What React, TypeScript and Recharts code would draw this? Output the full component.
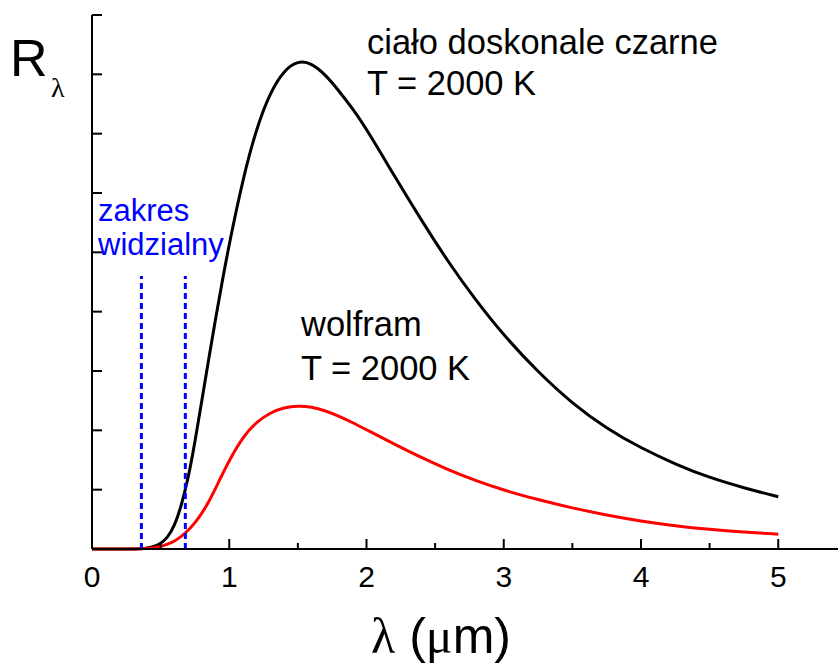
import { Line, LineChart, ReferenceLine, XAxis, YAxis } from "recharts";

// wavelength in micrometres
const lambda = [
  0, 0.1, 0.2, 0.3, 0.4, 0.45, 0.5, 0.55, 0.6, 0.65, 0.7, 0.75, 0.8, 0.85, 0.9, 0.95, 1.0, 1.1, 1.2, 1.3,
  1.4, 1.5, 1.6, 1.7, 1.8, 1.9, 2.0, 2.2, 2.4, 2.6, 2.8, 3.0, 3.25, 3.5, 3.75, 4.0, 4.25, 4.5, 4.75, 5.0,
];
// ciało doskonale czarne, T = 2000 K (arbitrary units)
const blackBody = [
  0, 0, 0, 0, 0.01, 0.04, 0.09, 0.19, 0.38, 0.72, 1.18, 1.8, 2.5, 3.2, 3.875, 4.525, 5.145, 6.245, 7.105,
  7.705, 8.07, 8.23, 8.19, 7.995, 7.72, 7.42, 7.08, 6.3, 5.54, 4.82, 4.18, 3.6, 2.98, 2.45, 2.03, 1.7,
  1.43, 1.2, 1.03, 0.88,
];
// wolfram, T = 2000 K
const tungsten = [
  0, 0, 0, 0, 0.01, 0.02, 0.04, 0.08, 0.13, 0.21, 0.31, 0.44, 0.6, 0.79, 1.02, 1.26, 1.495, 1.895, 2.145,
  2.3, 2.385, 2.415, 2.395, 2.33, 2.24, 2.13, 2.01, 1.77, 1.54, 1.33, 1.15, 0.99, 0.83, 0.69, 0.57, 0.47,
  0.39, 0.33, 0.285, 0.25,
];
const xTicks = [0, 0.5, 1, 1.5, 2, 2.5, 3, 3.5, 4, 4.5, 5];
const yTicks = [0, 1, 2, 3, 4, 5, 6, 7, 8, 9];
const visibleRange = [0.36, 0.68];
const visibleTop = 4.6;

const data = lambda.map((x, i) => ({ x, black: blackBody[i], w: tungsten[i] }));

const FONT = "'Liberation Sans', Arial, sans-serif";
const SERIF = "'Liberation Serif', 'DejaVu Serif', serif";

const M = { top: 15, left: 62, right: 10, bottom: 84 };
const AXIS_W = 30;
const AXIS_H = 30;
const H = 663;
const PLOT_LEFT = M.left + AXIS_W;
const PLOT_BOTTOM = H - M.bottom - AXIS_H;

function XTick(props: any) {
  const { x, payload } = props;
  const y = PLOT_BOTTOM;
  const major = Number.isInteger(payload.value);
  return (
    <g>
      <line x1={x} x2={x} y1={y} y2={y - (major ? 10 : 6)} stroke="#000" strokeWidth={2} />
      {major && (
        <text x={x} y={y + 38} textAnchor="middle" fontSize={30} fontFamily={FONT} fill="#000">
          {payload.value}
        </text>
      )}
    </g>
  );
}

function YTick(props: any) {
  const { y } = props;
  const x = PLOT_LEFT;
  return <line x1={x} x2={x + 10} y1={y} y2={y} stroke="#000" strokeWidth={2} />;
}

export default function App() {
  return (
    <div style={{ position: "fixed", left: 0, top: 0, width: 838, height: H, overflow: "hidden", background: "#fff" }}>
      <LineChart width={850} height={H} data={data} margin={M}>
        <XAxis
          dataKey="x"
          type="number"
          domain={[0, 5.45]}
          ticks={xTicks}
          height={AXIS_H}
          tickSize={0}
          tickMargin={0}
          tickLine={false}
          tick={<XTick />}
          axisLine={{ stroke: "#000", strokeWidth: 2 }}
        />
        <YAxis
          type="number"
          domain={[0, 9]}
          ticks={yTicks}
          width={AXIS_W}
          tickSize={0}
          tickMargin={0}
          tickLine={false}
          tick={<YTick />}
          axisLine={{ stroke: "#000", strokeWidth: 2 }}
        />
        <Line dataKey="black" type="basis" stroke="#000" strokeWidth={3} dot={false} isAnimationActive={false} />
        <Line dataKey="w" type="basis" stroke="#ff0000" strokeWidth={3} dot={false} isAnimationActive={false} />
        {visibleRange.map((v) => (
          <ReferenceLine
            key={v}
            segment={[
              { x: v, y: 0 },
              { x: v, y: visibleTop },
            ]}
            stroke="#0000ff"
            strokeWidth={3}
            strokeDasharray="6 4"
            ifOverflow="visible"
          />
        ))}
      </LineChart>
      <svg width={838} height={H} style={{ position: "absolute", left: 0, top: 0, pointerEvents: "none" }}>
        <text x={10} y={76} fontSize={52} fontFamily={FONT} fill="#000">
          R
        </text>
        <text x={51} y={97} fontSize={28} fontFamily={SERIF} fill="#000">
          λ
        </text>
        <g fontFamily={FONT} fontSize={34.5} fill="#000">
          <text x={367} y={54}>ciało doskonale czarne</text>
          <text x={367} y={95}>T = 2000 K</text>
          <text x={301} y={336}>wolfram</text>
          <text x={301} y={380}>T = 2000 K</text>
        </g>
        <g fontFamily={FONT} fontSize={31} fill="#0000ff">
          <text x={98} y={221}>zakres</text>
          <text x={98} y={255}>widzialny</text>
        </g>
        <text x={441} y={653} textAnchor="middle" fontSize={50} fontFamily={FONT} fill="#000">
          <tspan fontFamily={SERIF}>λ</tspan> (<tspan fontFamily={SERIF}>μ</tspan>m)
        </text>
      </svg>
    </div>
  );
}
